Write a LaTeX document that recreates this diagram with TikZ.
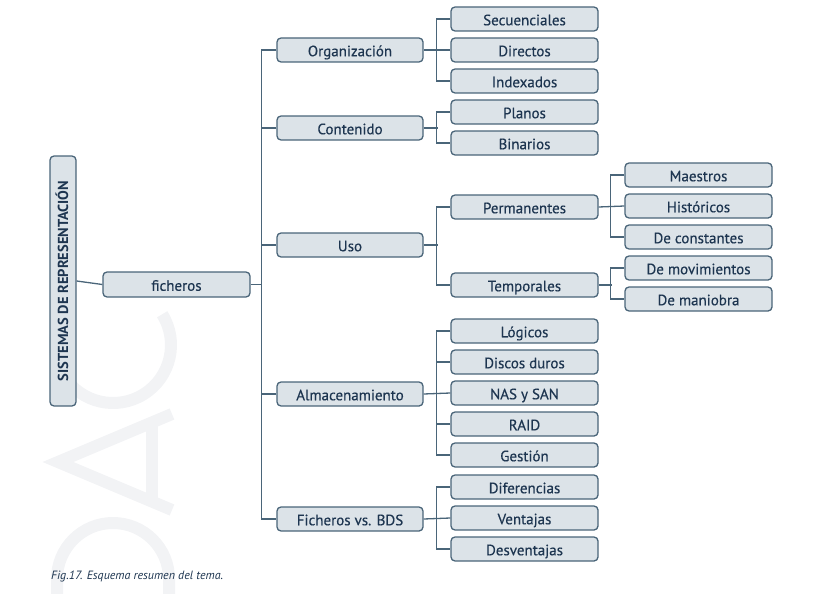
\documentclass[tikz,border=0pt]{standalone}
\usepackage{fontspec}
\setmainfont{PT Sans}
\newfontfamily\boxfont{PT Sans}[FakeBold=0.35]
\definecolor{fillc}{HTML}{DCE3E8}
\definecolor{bordc}{HTML}{4A6579}
\definecolor{textc}{HTML}{1D3550}
\definecolor{wmark}{HTML}{F2F3F5}
\begin{document}
\begin{tikzpicture}[x=1pt,y=-1pt,
  box/.style={draw=bordc, fill=fillc, rounded corners=4pt, line width=1.3pt,
    minimum height=24pt, minimum width=147pt, text=textc, inner sep=0pt,
    text height=13.5pt, text depth=1pt, font=\boxfont\fontsize{15}{17}\selectfont},
  conn/.style={draw=bordc, line width=1.3pt},
  wm/.style={draw=wmark, line width=12pt}]
\useasboundingbox (0,0) rectangle (828,594);
% watermark
\begin{scope}
\clip (0,0) rectangle (828,594);
\draw[wm] (113,345) ++(-32:58) arc[start angle=-32, end angle=212, radius=58];
\draw[wm, line join=miter] (172,414) -- (58,462) -- (172,510);
\draw[wm] (152,420) -- (152,502);
\draw[wm] (57,610) -- (57,579) arc[start angle=180, end angle=360, radius=56] -- (169,610);
\end{scope}
% root
\node[box, rotate=90, minimum width=250pt, minimum height=26pt, text height=10pt, text depth=0pt,
  font=\bfseries\fontsize{14.5}{16}\selectfont] (root) at (63,281) {SISTEMAS DE REPRESENTACIÓN};
\node[box, minimum height=25pt] (fich) at (176.5,284.5) {ficheros};
% level 2
\node[box, minimum width=146pt] (org) at (350,50) {Organización};
\node[box, minimum width=146pt] (cont) at (350,128) {Contenido};
\node[box, minimum width=146pt] (uso) at (350,245) {Uso};
\node[box, minimum width=146pt] (alm) at (350,394) {Almacenamiento};
\node[box, minimum width=146pt] (bds) at (350,519) {Ficheros vs. BDS};
% level 3
\node[box] (sec) at (524.5,19) {Secuenciales};
\node[box] (dir) at (524.5,50) {Directos};
\node[box] (idx) at (524.5,81) {Indexados};
\node[box] (pla) at (524.5,112) {Planos};
\node[box] (bin) at (524.5,143) {Binarios};
\node[box] (perm) at (524.5,207) {Permanentes};
\node[box] (temp) at (524.5,285) {Temporales};
\node[box] (log) at (524.5,331) {Lógicos};
\node[box] (dis) at (524.5,362) {Discos duros};
\node[box] (nas) at (524.5,393) {NAS y SAN};
\node[box] (raid) at (524.5,424) {RAID};
\node[box] (ges) at (524.5,455) {Gestión};
\node[box] (dif) at (524.5,487) {Diferencias};
\node[box] (ven) at (524.5,518) {Ventajas};
\node[box] (des) at (524.5,549) {Desventajas};
% level 4
\node[box] (mae) at (698.5,175) {Maestros};
\node[box] (his) at (698.5,206) {Históricos};
\node[box] (cons) at (698.5,237) {De constantes};
\node[box] (mov) at (698.5,268) {De movimientos};
\node[box] (man) at (698.5,299) {De maniobra};
% connectors
\draw[conn] (root.south) -- (fich.west);
\coordinate (trunk) at (262,284.5);
\draw[conn] (fich.east) -- (trunk);
\draw[conn] (org.west) -- ++(-15,0) |- (bds.west);
\draw[conn] (cont.west) -- ++(-15,0);
\draw[conn] (uso.west) -- ++(-15,0);
\draw[conn] (alm.west) -- ++(-15,0);
% organizacion
\draw[conn] (org.east) -- (dir.west);
\draw[conn] (sec.west) -- ++(-14,0) |- (idx.west);
% contenido
\draw[conn] (pla.west) -- ++(-14,0) |- (bin.west);
\draw[conn] (cont.east) -- ++(14,0);
% uso
\draw[conn] (perm.west) -- ++(-14,0) |- (temp.west);
\draw[conn] (uso.east) -- ++(14,0);
\draw[conn] (mae.west) -- ++(-14,0) |- (cons.west);
\draw[conn] (perm.east) -- (his.west);
\draw[conn] (mov.west) -- ++(-14,0) |- (man.west);
\draw[conn] (temp.east) -- ++(13.5,0);
% almacenamiento
\draw[conn] (log.west) -- ++(-14,0) |- (ges.west);
\draw[conn] (dis.west) -- ++(-14,0);
\draw[conn] (raid.west) -- ++(-14,0);
\draw[conn] (alm.east) -- (nas.west);
% ficheros vs bds
\draw[conn] (dif.west) -- ++(-14,0) |- (des.west);
\draw[conn] (bds.east) -- (ven.west);
% caption
\node[anchor=west, text=textc, inner sep=0pt, font=\itshape\fontsize{12}{14}\selectfont] (cap) at (51,576) {Fig.17. Esquema resumen del tema.};
\end{tikzpicture}
\end{document}
